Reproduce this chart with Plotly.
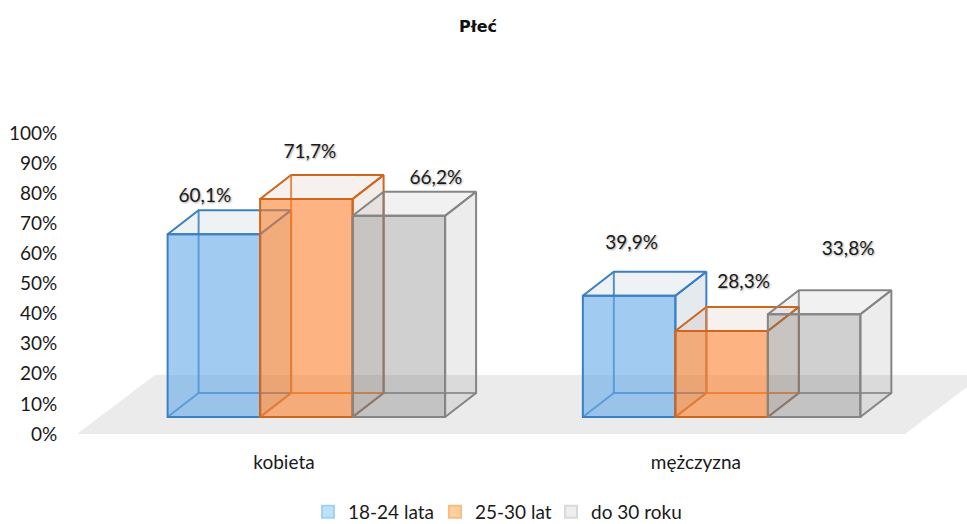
import plotly.graph_objects as go

categories = ['kobieta', 'mężczyzna']
series_names = ['18-24 lata', '25-30 lat', 'do 30 roku']
values_18_24 = [60.1, 39.9]
values_25_30 = [71.7, 28.3]
values_do_30 = [66.2, 33.8]
labels_18_24 = ['60,1%', '39,9%']
labels_25_30 = ['71,7%', '28,3%']
labels_do_30 = ['66,2%', '33,8%']
y_ticks = list(range(0, 101, 10))

series_values = [values_18_24, values_25_30, values_do_30]
series_labels = [labels_18_24, labels_25_30, labels_do_30]

FONT = 'Lato, Carlito, Calibri, sans-serif'
FONT_SIZE = 19
TEXT = '#1a1a1a'

# pixels per axis unit, the plot is sized so these hold
PX_X = 414
PX_Y = 3.01

# fake 3d geometry, in axis units
CENTERS = [0.554, 1.557]
BAR_W = 92.5 / PX_X
BASE = 17 / PX_Y
HEIGHT_SCALE = 1.01
DEPTH_X = 31 / PX_X
DEPTH_Y = 24 / PX_Y
FLOOR_W = 2.0
FLOOR_DX = 78 / PX_X
FLOOR_DY = 59 / PX_Y

styles = [
    dict(front='rgba(94,166,232,0.58)', line='#3b7fc4', back='rgba(59,127,196,0.85)',
         top='rgba(90,125,160,0.10)', side='rgba(80,115,150,0.15)', swatch='#bde0fb', swatch_line='#a3d2f6'),
    dict(front='rgba(251,125,40,0.58)', line='#d0651c', back='rgba(233,120,45,0.85)',
         top='rgba(150,100,70,0.09)', side='rgba(140,80,50,0.10)', swatch='#ffd09b', swatch_line='#f7bd85'),
    dict(front='rgba(120,120,120,0.35)', line='#858585', back='rgba(130,130,130,0.8)',
         top='rgba(120,120,120,0.10)', side='rgba(120,120,120,0.14)', swatch='#eeeeee', swatch_line='#d9d9d9'),
]

# data labels were moved by hand in the original, offsets from front top centre (px)
label_dx = [[-9, 2.5], [3.5, 22], [37, 34]]
label_dy = [[37.5, 51], [46, 48], [37, 63.5]]

# one legend per series, so each entry can sit where the original has it
legend_ids = ['legend', 'legend2', 'legend3']
legend_text_px = [348, 475, 591]

fig = go.Figure()

for i, name in enumerate(series_names):
    st = styles[i]
    tops_x, tops_y, sides_x, sides_y, back_x, back_y = [], [], [], [], [], []
    bar_x, bar_h = [], []
    for c, value in enumerate(series_values[i]):
        left = CENTERS[c] + (i - 1.5) * BAR_W
        right = left + BAR_W
        top = BASE + value * HEIGHT_SCALE
        tops_x += [left, right, right + DEPTH_X, left + DEPTH_X, left, None]
        tops_y += [top, top, top + DEPTH_Y, top + DEPTH_Y, top, None]
        sides_x += [right, right + DEPTH_X, right + DEPTH_X, right, right, None]
        sides_y += [top, top + DEPTH_Y, BASE + DEPTH_Y, BASE, top, None]
        back_x += [left + DEPTH_X, left + DEPTH_X, None,
                   left, left + DEPTH_X, right + DEPTH_X, None]
        back_y += [top + DEPTH_Y, BASE + DEPTH_Y, None,
                   BASE, BASE + DEPTH_Y, BASE + DEPTH_Y, None]
        bar_x.append(left + BAR_W / 2)
        bar_h.append(value * HEIGHT_SCALE)

    for xs, ys, fill in [(sides_x, sides_y, st['side']), (tops_x, tops_y, st['top'])]:
        fig.add_trace(go.Scatter(
            x=xs, y=ys, mode='lines', fill='toself', fillcolor=fill,
            line=dict(color=st['line'], width=2), showlegend=False,
            hoverinfo='skip', zorder=3 * i
        ))
    fig.add_trace(go.Scatter(
        x=back_x, y=back_y, mode='lines',
        line=dict(color=st['back'], width=2), showlegend=False,
        hoverinfo='skip', zorder=3 * i + 1
    ))
    fig.add_trace(go.Bar(
        x=bar_x, y=bar_h, base=BASE, width=BAR_W, name=name,
        marker=dict(color=st['front'], line=dict(color=st['line'], width=2)),
        showlegend=False, zorder=3 * i + 2
    ))
    # legend swatches are paler than the bars
    fig.add_trace(go.Bar(
        x=[None], y=[None], name=name, legend=legend_ids[i],
        marker=dict(color=st['swatch'], line=dict(color=st['swatch_line'], width=2))
    ))

for i, labels in enumerate(series_labels):
    xs = [CENTERS[c] + (i - 1) * BAR_W + label_dx[i][c] / PX_X for c in range(2)]
    ys = [BASE + series_values[i][c] * HEIGHT_SCALE + label_dy[i][c] / PX_Y for c in range(2)]
    fig.add_trace(go.Scatter(
        x=xs, y=ys, mode='text', text=labels, textposition='middle center',
        textfont=dict(family=FONT, size=FONT_SIZE, color=TEXT, shadow='1px 1px 2px rgba(0,0,0,0.35)'),
        showlegend=False, hoverinfo='skip', zorder=20
    ))

fig.add_shape(
    type='path', layer='below', line_width=0, fillcolor='#ebebeb', xref='x', yref='y',
    path=f'M 0 0 L {FLOOR_W} 0 L {FLOOR_W + FLOOR_DX} {FLOOR_DY} L {FLOOR_DX} {FLOOR_DY} Z'
)

plot_w = 967 - 77
legends = {}
for legend_id, text_px in zip(legend_ids, legend_text_px):
    legends[legend_id] = dict(
        orientation='h', xref='container', x=(text_px - 40) / 967, xanchor='left',
        yref='container', y=1 - 512 / 524, yanchor='middle',
        font=dict(family=FONT, size=FONT_SIZE, color=TEXT), bgcolor='rgba(0,0,0,0)',
        borderwidth=0
    )

fig.update_layout(
    width=967,
    height=524,
    margin=dict(l=77, r=0, t=133, b=90),
    paper_bgcolor='white',
    plot_bgcolor='white',
    font=dict(family=FONT, size=FONT_SIZE, color=TEXT),
    barmode='overlay',
    title=dict(
        text='<b>Płeć</b>', x=478 / 967, xanchor='center', y=1 - 26 / 524, yanchor='middle',
        font=dict(family='DejaVu Sans, sans-serif', size=16, color='#111111')
    ),
    xaxis=dict(
        range=[0, plot_w / PX_X], tickmode='array', tickvals=[0.5, 1.495], ticktext=categories,
        showgrid=False, zeroline=False, showline=False,
        ticks='outside', ticklen=11, tickcolor='rgba(0,0,0,0)',
        tickfont=dict(family=FONT, size=FONT_SIZE, color=TEXT)
    ),
    yaxis=dict(
        range=[0, 100], tickmode='array', tickvals=y_ticks, ticktext=[f'{t}%' for t in y_ticks],
        showgrid=False, zeroline=False, showline=False,
        ticks='outside', ticklen=15, tickcolor='rgba(0,0,0,0)',
        tickfont=dict(family=FONT, size=FONT_SIZE, color=TEXT)
    ),
    **legends
)

# the page adds a default body margin, the reference has none
fig.write_html("out.html", config=dict(displayModeBar=False),
               post_script="document.body.style.margin='0';")
